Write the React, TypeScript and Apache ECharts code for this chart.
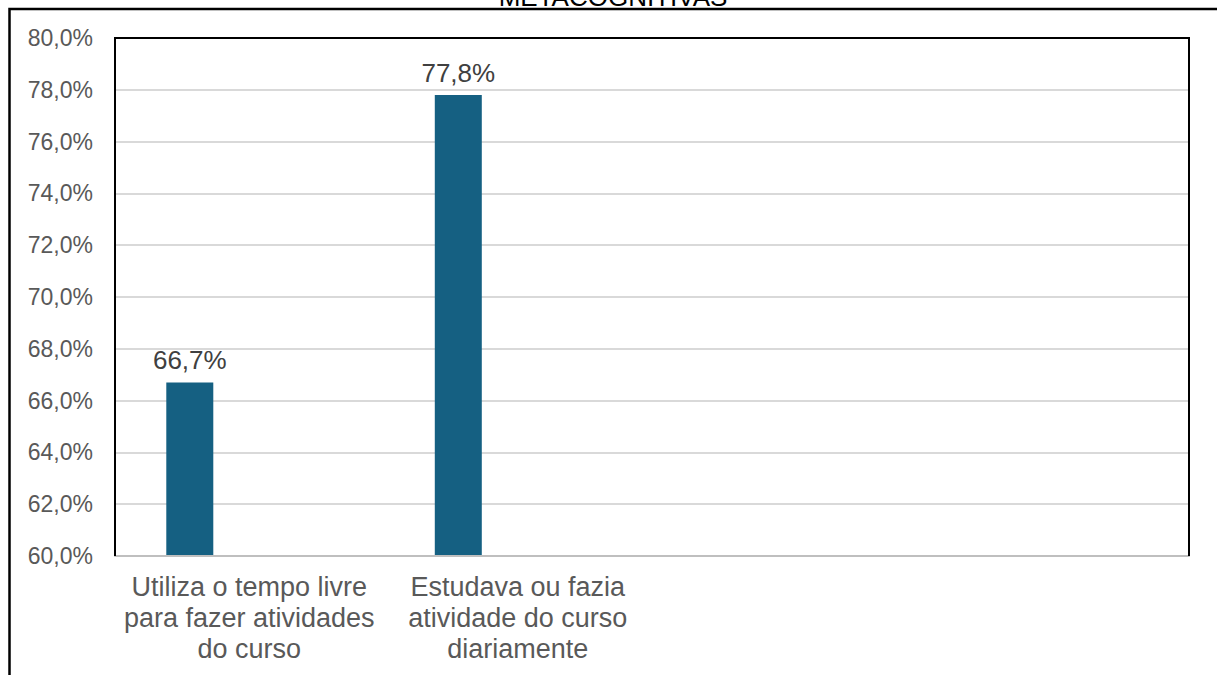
import React, { useEffect, useRef } from "react";
import * as echarts from "echarts";

const categories = [
  "Utiliza o tempo livre\npara fazer atividades\ndo curso",
  "Estudava ou fazia\natividade do curso\ndiariamente",
  "",
  "",
];
const seriesValues = [66.7, 77.8, null, null];
const emptySeries = [null, null, null, null];
const yMin = 60;
const yMax = 80;
const yStep = 2;
const titleText = "METACOGNITIVAS";

const fmt = (v: number) => v.toFixed(1).replace(".", ",") + "%";

const GL = 115, GT = 38, GR = 28, GB = 119;
const W = 1217, H = 675;

export default function App() {
  const ref = useRef<HTMLDivElement>(null);
  useEffect(() => {
    if (!ref.current) return;
    const chart = echarts.init(ref.current, undefined, { renderer: "svg" });
    chart.setOption({
      animation: false,
      textStyle: { fontFamily: "Liberation Sans, Arial, sans-serif" },
      grid: { left: GL, top: GT, right: GR, bottom: GB },
      graphic: [
        {
          type: "polyline",
          shape: { points: [[W, 9], [9.5, 9], [9.5, H + 1]] },
          style: { stroke: "#000", lineWidth: 2.5, fill: "none" },
          z: 10,
        },
        {
          type: "polyline",
          shape: {
            points: [
              [GL, H - GB],
              [GL, GT],
              [W - GR, GT],
              [W - GR, H - GB],
            ],
          },
          style: { stroke: "#000", lineWidth: 2, fill: "none" },
          z: 10,
        },
        {
          type: "text",
          x: 613,
          y: 10,
          style: {
            text: titleText,
            fill: "#000",
            font: "26px Liberation Sans, Arial, sans-serif",
            align: "center",
            verticalAlign: "bottom",
          },
        },
      ],
      xAxis: {
        type: "category",
        data: categories,
        axisLine: { show: true, lineStyle: { color: "#bfbfbf", width: 2 } },
        axisTick: { show: false },
        axisLabel: {
          color: "#595959",
          fontSize: 27,
          lineHeight: 31,
          margin: 15,
          interval: 0,
          align: "center",
        },
        z: 5,
      },
      yAxis: {
        type: "value",
        min: yMin,
        max: yMax,
        interval: yStep,
        axisLine: { show: false },
        axisTick: { show: false },
        splitLine: { lineStyle: { color: "#d9d9d9", width: 2 } },
        axisLabel: {
          color: "#595959",
          fontSize: 23,
          margin: 22,
          formatter: (v: number) => fmt(v),
        },
      },
      series: [
        {
          type: "bar",
          name: "A",
          data: seriesValues,
          barWidth: 47,
          barGap: "153%",
          itemStyle: { color: "#156082" },
          label: {
            show: true,
            position: "top",
            distance: 9,
            color: "#404040",
            fontSize: 26,
            formatter: (p: any) => fmt(p.value),
          },
        },
        {
          type: "bar",
          name: "B",
          data: emptySeries,
          barWidth: 47,
          itemStyle: { color: "#e97132" },
        },
      ],
    });
    return () => chart.dispose();
  }, []);
  return (
    <div
      ref={ref}
      style={{ position: "fixed", left: 0, top: 0, width: W, height: H, background: "#fff" }}
    />
  );
}
